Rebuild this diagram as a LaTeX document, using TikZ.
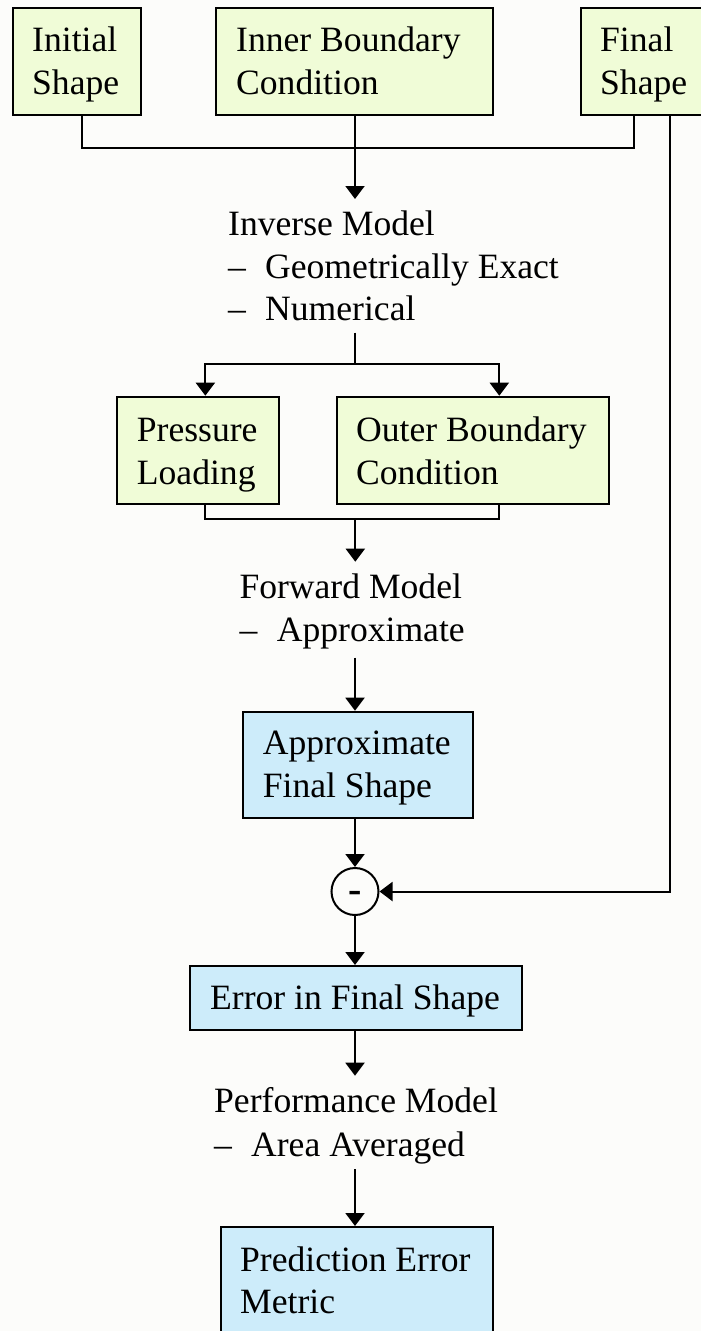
\documentclass[tikz,border=0pt]{standalone}
\usepackage{fontspec}
\setmainfont{Liberation Serif}
\usetikzlibrary{arrows.meta,calc}
\definecolor{bgcol}{RGB}{252,252,250}
\definecolor{greenbox}{RGB}{240,252,215}
\definecolor{bluebox}{RGB}{205,236,250}
\tikzset{
  boxbase/.style={draw=black,line width=2pt,rectangle,inner sep=0pt,anchor=north west},
  gbox/.style={boxbase,fill=greenbox},
  bbox/.style={boxbase,fill=bluebox},
  txt/.style={anchor=base west,inner sep=0pt,font=\fontsize{35.6}{42.7}\selectfont},
  conn/.style={line width=2pt,line join=miter},
  arr/.style={conn,-{Triangle[width=19pt,length=13pt]}},
  minus/.style={draw=black,line width=2pt,circle,minimum size=47pt,inner sep=0pt,fill=bgcol}
}
\newcommand{\dashitem}[2]{\makebox[#1][l]{–}#2}
\begin{document}
\begin{tikzpicture}[x=1pt,y=-1pt]
\useasboundingbox (0,0) rectangle (701,1331);
\clip (0,0) rectangle (701,1331);
\fill[bgcol] (0,0) rectangle (701,1331);

% top boxes
\node[gbox,minimum width=128.3pt,minimum height=107.3pt] (init) at (11.7,6.7) {};
\node[txt] (initT1) at (32,51.7) {Initial};
\node[txt] (initT2) at (32,94.5) {Shape};

\node[gbox,minimum width=276.7pt,minimum height=107.3pt] (inner) at (215,6.7) {};
\node[txt] (innerT1) at (236,51.7) {Inner Boundary};
\node[txt] (innerT2) at (236,94.5) {Condition};

\node[gbox,minimum width=140pt,minimum height=107.3pt] (final) at (580,6.7) {};
\node[txt] (finalT1) at (600,51.7) {Final};
\node[txt] (finalT2) at (600,94.5) {Shape};

% inverse model
\node[txt] (inv1) at (228,235) {Inverse Model};
\node[txt] (inv2) at (228,278) {\dashitem{37pt}{Geometrically Exact}};
\node[txt] (inv3) at (228,320.5) {\dashitem{37pt}{Numerical}};

% second row
\node[gbox,minimum width=161.7pt,minimum height=107pt] (press) at (116,395.7) {};
\node[txt] (pressT1) at (136.7,441) {Pressure};
\node[txt] (pressT2) at (136.7,484) {Loading};

\node[gbox,minimum width=272.6pt,minimum height=107pt] (outer) at (335.7,395.7) {};
\node[txt] (outerT1) at (356,441) {Outer Boundary};
\node[txt] (outerT2) at (356,484) {Condition};

% forward model
\node[txt] (fwd1) at (239.3,598.3) {Forward Model};
\node[txt] (fwd2) at (239.3,641) {\dashitem{37.4pt}{Approximate}};

% approximate final shape
\node[bbox,minimum width=230pt,minimum height=106.6pt] (approx) at (241.7,710.7) {};
\node[txt] (approxT1) at (262.7,754) {Approximate};
\node[txt] (approxT2) at (262.7,797.3) {Final Shape};

% minus circle
\node[minus] (diff) at (355,891.5) {};
\node[anchor=base,inner sep=0pt,font=\fontsize{40}{48}\selectfont\bfseries] (diffT) at (355,902) {-};

% error box
\node[bbox,minimum width=331.7pt,minimum height=64pt] (err) at (189.3,965) {};
\node[txt] (errT) at (210,1009.3) {Error in Final Shape};

% performance model
\node[txt] (perf1) at (214,1112.7) {Performance Model};
\node[txt] (perf2) at (214,1156) {\dashitem{37pt}{Area Averaged}};

% prediction box
\node[bbox,minimum width=271.7pt,minimum height=140pt] (pred) at (220,1226) {};
\node[txt] (predT1) at (240,1271) {Prediction Error};
\node[txt] (predT2) at (240,1313.3) {Metric};

% coordinates
\coordinate (j1) at (355,147.7);
\coordinate (invTop) at (355,199);
\coordinate (invBot) at (355,332.7);
\coordinate (split) at (355,364);
\coordinate (j2) at (355.3,519.3);
\coordinate (fwdTop) at (355.3,561.7);
\coordinate (fwdBot) at (355,657.7);
\coordinate (perfTop) at (355,1075.7);
\coordinate (perfBot) at (355,1169);

% connectors
\draw[conn] ([xshift=4.8pt]init.south) |- (j1) -| ([xshift=-16.7pt]final.south);
\draw[arr] (inner.south -| j1) -- (invTop);
\draw[conn] (invBot) -- (split);
\draw[arr] (split) -| ([xshift=7.5pt]press.north);
\draw[arr] (split) -| ([xshift=26.3pt]outer.north);
\draw[conn] ([xshift=7.5pt]press.south) |- (j2) -| ([xshift=26.3pt]outer.south);
\draw[arr] (j2) -- (fwdTop);
\draw[arr] (fwdBot) -- (approx.north -| fwdBot);
\draw[arr] (approx.south -| diff) -- (diff.north);
\draw[arr] ([xshift=19.3pt]final.south) |- (diff.east);
\draw[arr] (diff.south) -- (err.north -| diff);
\draw[arr] (err.south -| diff) -- (perfTop);
\draw[arr] (perfBot) -- (pred.north -| perfBot);
\end{tikzpicture}
\end{document}
